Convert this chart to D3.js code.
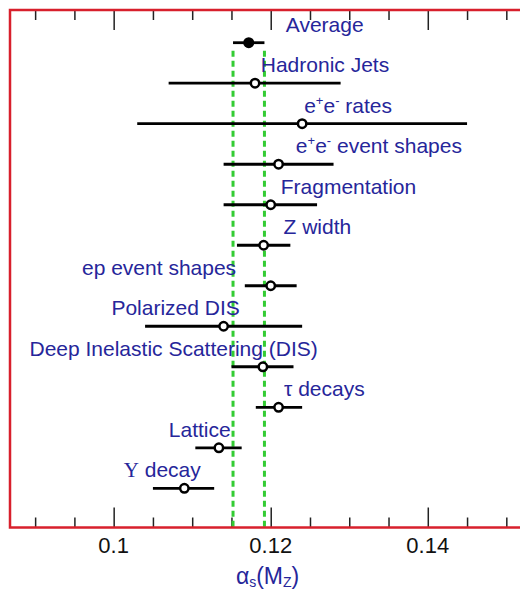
<!DOCTYPE html>
<html>
<head>
<meta charset="utf-8">
<script src="https://cdn.jsdelivr.net/npm/d3@7"></script>
<style>
  html, body { margin: 0; padding: 0; background: #ffffff; }
  svg { display: block; }
</style>
</head>
<body>
<script>
// ---- data ----
const categories = ["Average", "Hadronic Jets", "e+e- rates", "e+e- event shapes", "Fragmentation",
  "Z width", "ep event shapes", "Polarized DIS", "Deep Inelastic Scattering (DIS)",
  "τ decays", "Lattice", "Υ decay"];
const central = [0.1172, 0.118, 0.124, 0.121, 0.120, 0.1191, 0.120, 0.114, 0.119, 0.121, 0.1134, 0.109];
const low     = [0.1152, 0.107, 0.103, 0.114, 0.114, 0.1157, 0.1167, 0.104, 0.115, 0.1181, 0.1104, 0.105];
const high    = [0.1192, 0.1289, 0.145, 0.128, 0.1259, 0.1225, 0.1233, 0.124, 0.1229, 0.124, 0.1163, 0.1128];
const bandEdges = [0.1152, 0.1192];
const tickValues = [0.09, 0.095, 0.1, 0.105, 0.11, 0.115, 0.12, 0.125, 0.13, 0.135, 0.14, 0.145, 0.15];
const tickLabels = ["0.1", "0.12", "0.14"];
const majorTicks = [0.1, 0.12, 0.14];

// ---- layout (where each label starts, in αs units) ----
const labelStart = [0.12192, 0.11873, 0.12426, 0.1232, 0.12128, 0.12163, 0.09597, 0.09971, 0.08928, 0.1217, 0.10702, 0.10128];

const W = 520, H = 591;
const frame = { left: 10, top: 10, right: 532, bottom: 527.5 };
const blue = "#26269a";
const red = "#d8202c";

const svg = d3.select("body").append("svg").attr("width", W).attr("height", H);

const x = d3.scaleLinear().domain([0.0868, 0.15327]).range([frame.left, frame.right]);
const y = d3.scalePoint().domain(categories).range([42.7, 488.3]);

const isMajor = v => majorTicks.some(m => Math.abs(m - v) < 1e-9);

const bottomAxis = svg.append("g").attr("transform", `translate(0,${frame.bottom})`)
  .call(d3.axisTop(x).tickValues(tickValues).tickSizeOuter(0).tickFormat(""));
bottomAxis.select(".domain").remove();
bottomAxis.selectAll(".tick line")
  .attr("y2", d => isMajor(d) ? -20 : -10)
  .attr("stroke", "#222").attr("stroke-width", 1.5);

const topAxis = svg.append("g").attr("transform", `translate(0,${frame.top})`)
  .call(d3.axisBottom(x).tickValues(tickValues).tickSizeOuter(0).tickFormat(""));
topAxis.select(".domain").remove();
topAxis.selectAll(".tick line")
  .attr("y2", d => isMajor(d) ? 20 : 10)
  .attr("stroke", "#222").attr("stroke-width", 1.5);

// tick labels
svg.append("g").selectAll("text").data(majorTicks).join("text")
  .attr("x", d => x(d)).attr("y", 553)
  .attr("text-anchor", "middle")
  .attr("font-family", "Liberation Sans, Arial, sans-serif")
  .attr("font-size", 22).attr("fill", "#111")
  .text((d, i) => tickLabels[i]);

// axis title αs(MZ)
const title = svg.append("text")
  .attr("x", x(0.1196)).attr("y", 584)
  .attr("text-anchor", "middle")
  .attr("font-family", "Liberation Sans, Arial, sans-serif")
  .attr("font-size", 23).attr("fill", blue);
title.append("tspan").text("α");
title.append("tspan").attr("font-size", 14).attr("dy", 3).text("s");
title.append("tspan").attr("dy", -3).text("(M");
title.append("tspan").attr("font-size", 14).attr("dy", 3).text("Z");
title.append("tspan").attr("dy", -3).text(")");

// green dashed band lines
svg.append("g").selectAll("line").data(bandEdges).join("line")
  .attr("x1", d => x(d)).attr("x2", d => x(d))
  .attr("y1", y(categories[0]) + 8).attr("y2", frame.bottom)
  .attr("stroke", "#33cc33").attr("stroke-width", 3)
  .attr("stroke-dasharray", "6,4");

// error bars
const rows = categories.map((c, i) => ({ c, i, v: central[i], lo: low[i], hi: high[i] }));
svg.append("g").selectAll("line").data(rows).join("line")
  .attr("x1", d => x(d.lo)).attr("x2", d => x(d.hi))
  .attr("y1", d => y(d.c)).attr("y2", d => y(d.c))
  .attr("stroke", "#000").attr("stroke-width", 2.8);

// markers
svg.append("g").selectAll("circle").data(rows).join("circle")
  .attr("cx", d => x(d.v)).attr("cy", d => y(d.c))
  .attr("r", d => d.i === 0 ? 5.5 : 4.2)
  .attr("fill", d => d.i === 0 ? "#000" : "#fff")
  .attr("stroke", "#000").attr("stroke-width", d => d.i === 0 ? 0 : 2.5);

// labels
const labels = svg.append("g")
  .attr("font-family", "Liberation Sans, Arial, sans-serif")
  .attr("font-size", 21).attr("fill", blue);
rows.forEach(d => {
  const t = labels.append("text").attr("x", x(labelStart[d.i])).attr("y", y(d.c) - 11);
  if (d.c.startsWith("e+e-")) {
    t.append("tspan").text("e");
    t.append("tspan").attr("font-size", 13).attr("dy", -8).text("+");
    t.append("tspan").attr("dy", 8).text("e");
    t.append("tspan").attr("font-size", 13).attr("dy", -8).text("-");
    t.append("tspan").attr("dy", 8).text(d.c.slice(4));
  } else if (d.c.startsWith("Υ")) {
    t.append("tspan").attr("font-family", "Liberation Serif, serif").text("Υ");
    t.append("tspan").text(d.c.slice(1));
  } else {
    t.text(d.c);
  }
});

// red frame
svg.append("rect")
  .attr("x", frame.left).attr("y", frame.top)
  .attr("width", frame.right - frame.left).attr("height", frame.bottom - frame.top)
  .attr("fill", "none").attr("stroke", red).attr("stroke-width", 2.5);
</script>
</body>
</html>
